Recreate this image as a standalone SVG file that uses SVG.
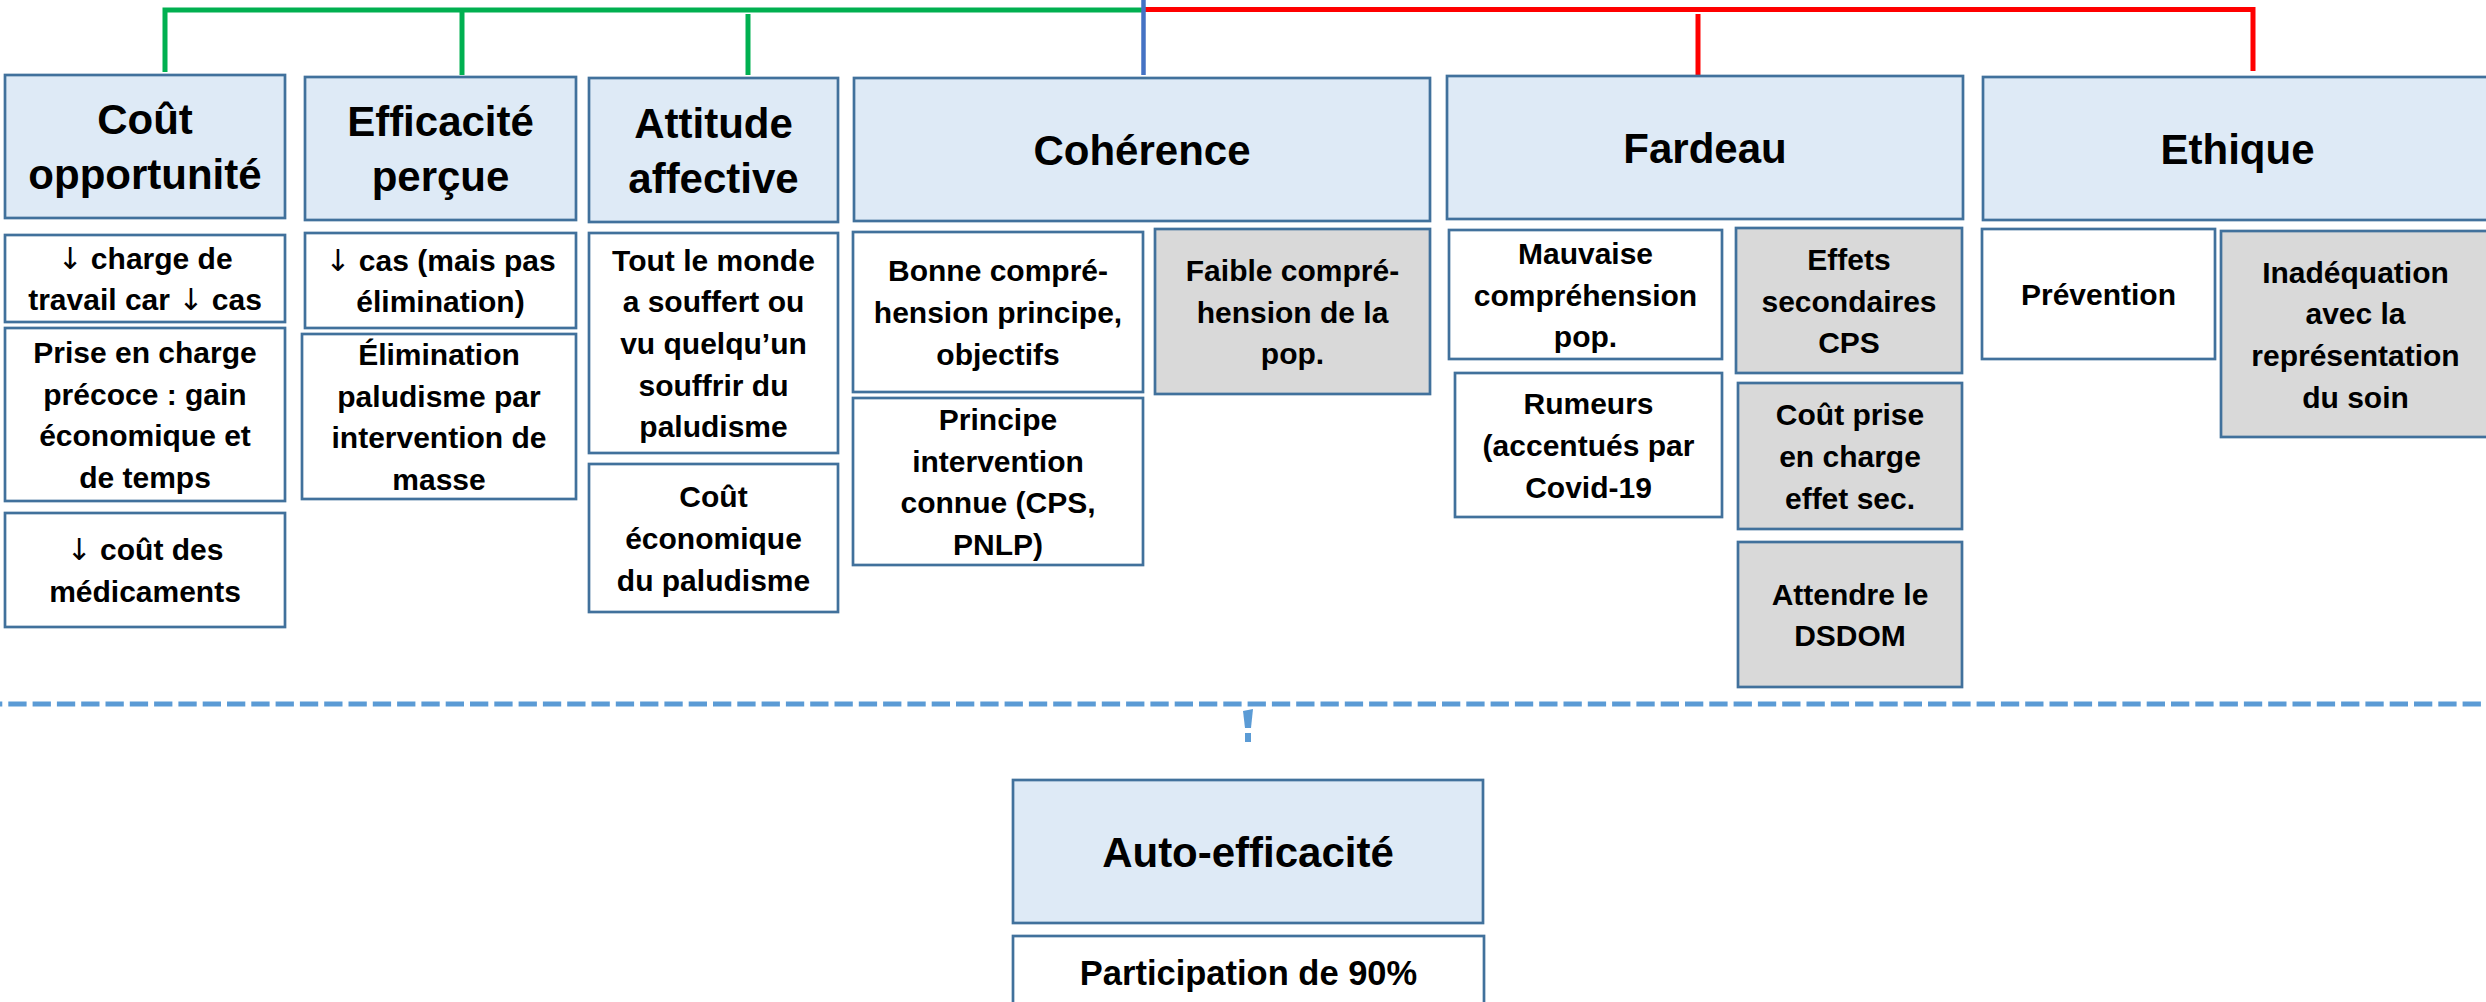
<svg xmlns="http://www.w3.org/2000/svg" width="2486" height="1002" viewBox="0 0 2486 1002">
<style>
.h{fill:#DEEAF6;stroke:#41719C;stroke-width:2.7}
.w{fill:#FFFFFF;stroke:#41719C;stroke-width:2.7}
.g{fill:#D9D9D9;stroke:#41719C;stroke-width:2.7}
text{font-family:"Liberation Sans",Arial,sans-serif;font-weight:bold;fill:#000;text-anchor:middle}
.ht{font-size:42px}
.bt{font-size:30px}
.pt{font-size:34.5px}
.ar{font-family:"DejaVu Sans",sans-serif;font-weight:normal}
.gr{stroke:#00B050;stroke-width:5;fill:none}
.rd{stroke:#FF0000;stroke-width:5;fill:none}
.bl{stroke:#4472C4;stroke-width:4.5;fill:none}
.ds{stroke:#5B9BD5;stroke-width:5;fill:none;stroke-dasharray:18.3 6}
</style>
<rect width="2486" height="1002" fill="#FFFFFF"/>
<g id="connectors">
<path class="gr" d="M165,72 V10 H1143"/>
<path class="gr" d="M462,10 V75"/>
<path class="gr" d="M748,14 V75"/>
<path class="rd" d="M1142,9.5 H2253 V71"/>
<path class="rd" d="M1698,14 V75"/>
<path class="bl" d="M1143.5,0 V75"/>
<path class="ds" d="M-16,704 H2490"/>
<polygon points="1243,711 1253,709 1251,728 1245,728" fill="#5B9BD5"/>
<rect x="1245" y="733" width="6" height="9" fill="#5B9BD5"/>
</g>
<g id="cout-opportunite">
<rect class="h" x="5" y="75" width="280" height="143"/>
<text class="ht"><tspan x="145" y="134">Coût</tspan><tspan x="145" y="189">opportunité</tspan></text>
</g>
<g id="cout-1">
<rect class="w" x="5" y="235" width="280" height="87"/>
<text class="bt"><tspan x="145" y="268.7"><tspan class="ar">↓</tspan> charge de</tspan><tspan x="145" y="310.4">travail car <tspan class="ar">↓</tspan> cas</tspan></text>
</g>
<g id="cout-2">
<rect class="w" x="5" y="328" width="280" height="173"/>
<text class="bt"><tspan x="145" y="363">Prise en charge</tspan><tspan x="145" y="404.7">précoce : gain</tspan><tspan x="145" y="446.4">économique et</tspan><tspan x="145" y="488.1">de temps</tspan></text>
</g>
<g id="cout-3">
<rect class="w" x="5" y="513" width="280" height="114"/>
<text class="bt"><tspan x="145" y="560.2"><tspan class="ar">↓</tspan> coût des</tspan><tspan x="145" y="601.9">médicaments</tspan></text>
</g>
<g id="efficacite-percue">
<rect class="h" x="305" y="77" width="271" height="143"/>
<text class="ht"><tspan x="440.5" y="136">Efficacité</tspan><tspan x="440.5" y="191">perçue</tspan></text>
</g>
<g id="eff-1">
<rect class="w" x="305" y="233" width="271" height="95"/>
<text class="bt"><tspan x="440.5" y="270.7"><tspan class="ar">↓</tspan> cas (mais pas</tspan><tspan x="440.5" y="312.4">élimination)</tspan></text>
</g>
<g id="eff-2">
<rect class="w" x="302" y="334" width="274" height="165"/>
<text class="bt"><tspan x="439" y="365">Élimination</tspan><tspan x="439" y="406.7">paludisme par</tspan><tspan x="439" y="448.4">intervention de</tspan><tspan x="439" y="490.1">masse</tspan></text>
</g>
<g id="attitude-affective">
<rect class="h" x="589" y="78" width="249" height="144"/>
<text class="ht"><tspan x="713.5" y="137.5">Attitude</tspan><tspan x="713.5" y="192.5">affective</tspan></text>
</g>
<g id="att-1">
<rect class="w" x="589" y="233" width="249" height="220"/>
<text class="bt"><tspan x="713.5" y="270.6">Tout le monde</tspan><tspan x="713.5" y="312.3">a souffert ou</tspan><tspan x="713.5" y="354">vu quelqu’un</tspan><tspan x="713.5" y="395.7">souffrir du</tspan><tspan x="713.5" y="437.4">paludisme</tspan></text>
</g>
<g id="att-2">
<rect class="w" x="589" y="464" width="249" height="148"/>
<text class="bt"><tspan x="713.5" y="507.3">Coût</tspan><tspan x="713.5" y="549">économique</tspan><tspan x="713.5" y="590.7">du paludisme</tspan></text>
</g>
<g id="coherence">
<rect class="h" x="854" y="78" width="576" height="143"/>
<text class="ht" x="1142" y="164.5">Cohérence</text>
</g>
<g id="coh-1">
<rect class="w" x="853" y="232" width="290" height="160"/>
<text class="bt"><tspan x="998" y="281.3">Bonne compré-</tspan><tspan x="998" y="323">hension principe,</tspan><tspan x="998" y="364.7">objectifs</tspan></text>
</g>
<g id="coh-2">
<rect class="g" x="1155" y="229" width="275" height="165"/>
<text class="bt"><tspan x="1292.5" y="280.8">Faible compré-</tspan><tspan x="1292.5" y="322.5">hension de la</tspan><tspan x="1292.5" y="364.2">pop.</tspan></text>
</g>
<g id="coh-3">
<rect class="w" x="853" y="398" width="290" height="167"/>
<text class="bt"><tspan x="998" y="430">Principe</tspan><tspan x="998" y="471.7">intervention</tspan><tspan x="998" y="513.4">connue (CPS,</tspan><tspan x="998" y="555.1">PNLP)</tspan></text>
</g>
<g id="fardeau">
<rect class="h" x="1447" y="76" width="516" height="143"/>
<text class="ht" x="1705" y="162.5">Fardeau</text>
</g>
<g id="far-1">
<rect class="w" x="1449" y="230" width="273" height="129"/>
<text class="bt"><tspan x="1585.5" y="263.8">Mauvaise</tspan><tspan x="1585.5" y="305.5">compréhension</tspan><tspan x="1585.5" y="347.2">pop.</tspan></text>
</g>
<g id="far-2">
<rect class="g" x="1736" y="228" width="226" height="145"/>
<text class="bt"><tspan x="1849" y="269.8">Effets</tspan><tspan x="1849" y="311.5">secondaires</tspan><tspan x="1849" y="353.2">CPS</tspan></text>
</g>
<g id="far-3">
<rect class="w" x="1455" y="373" width="267" height="144"/>
<text class="bt"><tspan x="1588.5" y="414.3">Rumeurs</tspan><tspan x="1588.5" y="456">(accentués par</tspan><tspan x="1588.5" y="497.7">Covid-19</tspan></text>
</g>
<g id="far-4">
<rect class="g" x="1738" y="383" width="224" height="146"/>
<text class="bt"><tspan x="1850" y="425.3">Coût prise</tspan><tspan x="1850" y="467">en charge</tspan><tspan x="1850" y="508.7">effet sec.</tspan></text>
</g>
<g id="far-5">
<rect class="g" x="1738" y="542" width="224" height="145"/>
<text class="bt"><tspan x="1850" y="604.6">Attendre le</tspan><tspan x="1850" y="646.3">DSDOM</tspan></text>
</g>
<g id="ethique">
<rect class="h" x="1983" y="77" width="520" height="143"/>
<text class="ht" x="2237.5" y="163.5">Ethique</text>
</g>
<g id="eth-1">
<rect class="w" x="1982" y="229" width="233" height="130"/>
<text class="bt" x="2098.5" y="305">Prévention</text>
</g>
<g id="eth-2">
<rect class="g" x="2221" y="231" width="280" height="206"/>
<text class="bt"><tspan x="2355.5" y="282.5">Inadéquation</tspan><tspan x="2355.5" y="324.2">avec la</tspan><tspan x="2355.5" y="365.9">représentation</tspan><tspan x="2355.5" y="407.6">du soin</tspan></text>
</g>
<g id="auto-efficacite">
<rect class="h" x="1013" y="780" width="470" height="143"/>
<text class="ht" x="1248" y="866.5">Auto-efficacité</text>
</g>
<g id="participation">
<rect class="w" x="1013" y="936" width="471" height="80"/>
<text class="pt" x="1248.5" y="985">Participation de 90%</text>
</g>
</svg>
